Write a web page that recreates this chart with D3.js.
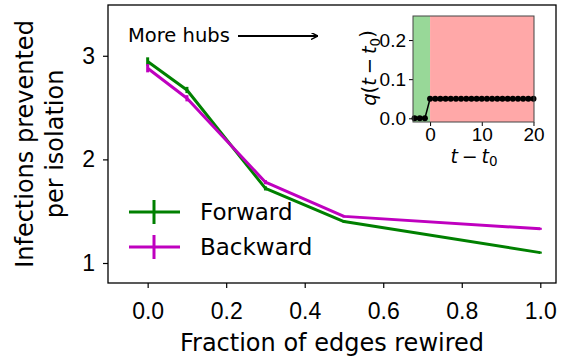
<!DOCTYPE html>
<html>
<head>
<meta charset="utf-8">
<script src="https://cdn.jsdelivr.net/npm/d3@7"></script>
<style>
  body { margin: 0; background: #fff; }
  svg { font-family: 'DejaVu Sans', sans-serif; }
</style>
</head>
<body>
<svg id="chart" width="566" height="362"></svg>
<script>
// main panel data
const rewired = [0, 0.1, 0.3, 0.5, 1.0];
const forward = [2.945, 2.67, 1.72, 1.40, 1.10];
const forwardErr = [0.04, 0.03, 0.02, 0.01, 0.01];
const backward = [2.88, 2.59, 1.78, 1.45, 1.33];
const backwardErr = [0.04, 0.03, 0.02, 0.01, 0.01];
const xTicks = [0, 0.2, 0.4, 0.6, 0.8, 1.0];
const yTicks = [1, 2, 3];

// inset data
const lag = [-3, -2, -1, 0, 1, 2, 3, 4, 5, 6, 7, 8, 9, 10, 11, 12, 13, 14, 15, 16, 17, 18, 19, 20];
const qValues = [0, 0, 0, 0.05, 0.05, 0.05, 0.05, 0.05, 0.05, 0.05, 0.05, 0.05, 0.05, 0.05, 0.05, 0.05, 0.05, 0.05, 0.05, 0.05, 0.05, 0.05, 0.05, 0.05];
const insetXTicks = [0, 10, 20];
const insetYTicks = [0, 0.1, 0.2];

const svg = d3.select('#chart');

const margin = { top: 5, right: 10, bottom: 79, left: 108 };
const width = 566 - margin.left - margin.right;
const height = 362 - margin.top - margin.bottom;

const x = d3.scaleLinear().domain([-0.101, 1.04]).range([0, width]);
const y = d3.scaleLinear().domain([0.807, 3.49]).range([height, 0]);

const g = svg.append('g')
    .attr('transform', `translate(${margin.left},${margin.top})`);

// axes
const xAxis = g.append('g')
    .attr('transform', `translate(0,${height})`)
    .call(d3.axisBottom(x).tickValues(xTicks).tickFormat(d3.format('.1f')).tickSize(5).tickPadding(8));
const yAxis = g.append('g')
    .call(d3.axisLeft(y).tickValues(yTicks).tickFormat(d3.format('d')).tickSize(5).tickPadding(8));

[xAxis, yAxis].forEach(a => {
    a.select('.domain').remove();
    a.selectAll('text').style('font-size', '23px').attr('fill', '#000');
    a.selectAll('line').attr('stroke', '#000').attr('stroke-width', 1.2);
});
xAxis.selectAll('text').attr('dy', '1.0em');

// series
const series = [
    { name: 'Forward', values: forward, err: forwardErr, color: '#008000' },
    { name: 'Backward', values: backward, err: backwardErr, color: '#bf00bf' }
];

const line = d3.line()
    .x((d, i) => x(rewired[i]))
    .y(d => y(d));

series.forEach(s => {
    g.append('path')
        .datum(s.values)
        .attr('fill', 'none')
        .attr('stroke', s.color)
        .attr('stroke-width', 3)
        .attr('stroke-linejoin', 'round')
        .attr('d', line);

    g.append('g')
        .selectAll('line')
        .data(s.values)
        .enter()
        .append('line')
            .attr('x1', (d, i) => x(rewired[i]))
            .attr('x2', (d, i) => x(rewired[i]))
            .attr('y1', (d, i) => y(d - s.err[i]))
            .attr('y2', (d, i) => y(d + s.err[i]))
            .attr('stroke', s.color)
            .attr('stroke-width', 3);
});

// frame
g.append('rect')
    .attr('width', width)
    .attr('height', height)
    .attr('fill', 'none')
    .attr('stroke', '#000')
    .attr('stroke-width', 1.3);

// axis labels
svg.append('text')
    .attr('x', margin.left + width / 2)
    .attr('y', 351)
    .attr('text-anchor', 'middle')
    .style('font-size', '24px')
    .text('Fraction of edges rewired');

const yLab = svg.append('text')
    .attr('transform', `translate(25,${margin.top + height / 2}) rotate(-90)`)
    .attr('text-anchor', 'middle')
    .style('font-size', '24px');
yLab.append('tspan').attr('x', 0).attr('dy', '0.35em').text('Infections prevented');
yLab.append('tspan').attr('x', 0).attr('dy', '1.22em').text('per isolation');

// legend
const legend = g.append('g');
series.forEach((s, i) => {
    const ly = 207 + i * 35;
    legend.append('line')
        .attr('x1', 21).attr('x2', 72)
        .attr('y1', ly).attr('y2', ly)
        .attr('stroke', s.color).attr('stroke-width', 3);
    legend.append('line')
        .attr('x1', 46).attr('x2', 46)
        .attr('y1', ly - 12).attr('y2', ly + 12)
        .attr('stroke', s.color).attr('stroke-width', 3);
    legend.append('text')
        .attr('x', 92)
        .attr('y', ly)
        .attr('dy', '0.35em')
        .style('font-size', '23px')
        .text(s.name);
});

// annotation
svg.append('defs').append('marker')
    .attr('id', 'arrowhead')
    .attr('viewBox', '0 0 10 10')
    .attr('refX', 10).attr('refY', 5)
    .attr('markerWidth', 7).attr('markerHeight', 7)
    .attr('markerUnits', 'userSpaceOnUse')
    .attr('orient', 'auto')
    .append('path')
        .attr('d', 'M0,0 L10,5 L0,10')
        .attr('fill', 'none')
        .attr('stroke', '#000')
        .attr('stroke-width', 2);
svg.append('text')
    .attr('x', 128)
    .attr('y', 42)
    .style('font-size', '19.5px')
    .text('More hubs');
svg.append('line')
    .attr('x1', 238).attr('x2', 318)
    .attr('y1', 36).attr('y2', 36)
    .attr('stroke', '#000').attr('stroke-width', 2)
    .attr('marker-end', 'url(#arrowhead)');

// inset
const inset = { left: 413, top: 16, width: 121, height: 106 };
const ix = d3.scaleLinear().domain([-3.3, 20.1]).range([0, inset.width]);
const iy = d3.scaleLinear().domain([-0.0095, 0.2615]).range([inset.height, 0]);

const ig = svg.append('g')
    .attr('transform', `translate(${inset.left},${inset.top})`);

ig.append('rect')
    .attr('x', 0).attr('y', 0)
    .attr('width', ix(0)).attr('height', inset.height)
    .attr('fill', '#98d898');
ig.append('rect')
    .attr('x', ix(0)).attr('y', 0)
    .attr('width', inset.width - ix(0)).attr('height', inset.height)
    .attr('fill', '#ffa8a8');

ig.append('path')
    .datum(qValues)
    .attr('fill', 'none')
    .attr('stroke', '#000')
    .attr('stroke-width', 1.5)
    .attr('d', d3.line().x((d, i) => ix(lag[i])).y(d => iy(d)));

ig.append('g')
    .selectAll('circle')
    .data(qValues)
    .enter()
    .append('circle')
        .attr('cx', (d, i) => ix(lag[i]))
        .attr('cy', d => iy(d))
        .attr('r', 3)
        .attr('fill', '#000');

const ixAxis = ig.append('g')
    .attr('transform', `translate(0,${inset.height})`)
    .call(d3.axisBottom(ix).tickValues(insetXTicks).tickSize(4).tickPadding(2));
const iyAxis = ig.append('g')
    .call(d3.axisLeft(iy).tickValues(insetYTicks).tickFormat(d3.format('.1f')).tickSize(4).tickPadding(3));
[ixAxis, iyAxis].forEach(a => {
    a.select('.domain').remove();
    a.selectAll('text').style('font-size', '19px').attr('fill', '#000');
    a.selectAll('line').attr('stroke', '#000');
});

ig.append('rect')
    .attr('width', inset.width)
    .attr('height', inset.height)
    .attr('fill', 'none')
    .attr('stroke', '#444')
    .attr('stroke-width', 1);

const ixLab = svg.append('text')
    .attr('x', inset.left + ix(8.5))
    .attr('y', 163)
    .attr('text-anchor', 'middle')
    .style('font-size', '19px');
ixLab.append('tspan').style('font-style', 'italic').text('t');
ixLab.append('tspan').text('\u2009\u2212\u2009');
ixLab.append('tspan').style('font-style', 'italic').text('t');
ixLab.append('tspan').attr('dy', '0.25em').style('font-size', '13.5px').text('0');

const iyLab = svg.append('text')
    .attr('transform', `translate(376,${inset.top + 52}) rotate(-90)`)
    .attr('text-anchor', 'middle')
    .style('font-size', '19.5px');
iyLab.append('tspan').style('font-style', 'italic').text('q');
iyLab.append('tspan').text('(');
iyLab.append('tspan').style('font-style', 'italic').text('t');
iyLab.append('tspan').text('\u2009\u2212\u2009');
iyLab.append('tspan').style('font-style', 'italic').text('t');
iyLab.append('tspan').attr('dy', '0.3em').style('font-size', '13.5px').text('0');
iyLab.append('tspan').attr('dy', '-0.3em').text(')');
</script>
</body>
</html>
